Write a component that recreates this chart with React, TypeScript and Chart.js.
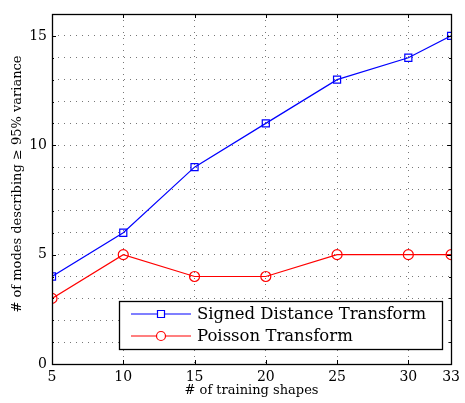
import React, { useEffect, useRef } from "react";
import { Chart, registerables } from "chart.js";

Chart.register(...registerables);

const trainingShapes = [5, 10, 15, 20, 25, 30, 33];
const sdtModes = [4, 6, 9, 11, 13, 14, 15];
const poissonModes = [3, 5, 4, 4, 5, 5, 5];
const xTicks = [5, 10, 15, 20, 25, 30, 33];
const yLabelTicks = [0, 5, 10, 15];
const seriesNames = ["Signed Distance Transform", "Poisson Transform"];
const xTitle = "# of training shapes";
const yTitle = "# of modes describing \u2265 95% variance";

const FONT = "'DejaVu Serif', serif";
const GRID = "#777";

const framePlugin = {
  id: "frame",
  afterDraw(chart: any) {
    const { ctx, chartArea: a, scales } = chart;
    const xs = scales.x, ys = scales.y;
    ctx.save();
    ctx.strokeStyle = "#000";
    ctx.lineWidth = 1;
    ctx.beginPath();
    for (const v of xTicks) {
      const px = Math.round(xs.getPixelForValue(v)) + 0.5;
      ctx.moveTo(px, a.bottom); ctx.lineTo(px, a.bottom - 4);
      ctx.moveTo(px, a.top); ctx.lineTo(px, a.top + 4);
    }
    for (let v = 0; v <= 16; v++) {
      const py = Math.round(ys.getPixelForValue(v)) + 0.5;
      const len = v % 5 === 0 ? 4 : 2;
      ctx.moveTo(a.left, py); ctx.lineTo(a.left + len, py);
      ctx.moveTo(a.right, py); ctx.lineTo(a.right - len, py);
    }
    ctx.stroke();
    ctx.lineWidth = 1.3;
    ctx.strokeRect(Math.round(a.left) + 0.5, Math.round(a.top) + 0.5, Math.round(a.right - a.left), Math.round(a.bottom - a.top));

    ctx.fillStyle = "#000";
    ctx.font = `13px ${FONT}`;
    ctx.textAlign = "center";
    ctx.textBaseline = "middle";
    ctx.fillText(xTitle, (a.left + a.right) / 2, 391);
    ctx.save();
    ctx.translate(18, 184);
    ctx.rotate(-Math.PI / 2);
    ctx.fillText(yTitle, 0, 0);
    ctx.restore();

    const lx = 119.5, ly = 301.5, lw = 323, lh = 48;
    ctx.fillStyle = "#fff";
    ctx.fillRect(lx, ly, lw, lh);
    ctx.strokeStyle = "#000";
    ctx.lineWidth = 1.3;
    ctx.strokeRect(lx, ly, lw, lh);
    const rows = [
      { y: 314, color: "#0000ff", shape: "rect" },
      { y: 336, color: "#ff0000", shape: "circle" },
    ];
    ctx.font = `16.5px ${FONT}`;
    ctx.textAlign = "left";
    rows.forEach((r, i) => {
      ctx.strokeStyle = r.color;
      ctx.lineWidth = 1.2;
      ctx.beginPath();
      ctx.moveTo(131, r.y); ctx.lineTo(191, r.y);
      ctx.stroke();
      ctx.beginPath();
      if (r.shape === "rect") ctx.rect(157.5, r.y - 3.5, 7, 7);
      else ctx.arc(161, r.y, 4.5, 0, Math.PI * 2);
      ctx.fillStyle = "#fff";
      ctx.fill();
      ctx.stroke();
      ctx.fillStyle = "#000";
      ctx.fillText(seriesNames[i], 197, r.y + 1);
    });
    ctx.restore();
  },
};

export default function App() {
  const ref = useRef<HTMLCanvasElement>(null);
  useEffect(() => {
    document.body.style.margin = "0";
    const chart = new Chart(ref.current!, {
      type: "line",
      data: {
        datasets: [
          {
            label: seriesNames[0],
            data: trainingShapes.map((x, i) => ({ x, y: sdtModes[i] })),
            borderColor: "#0000ff",
            borderWidth: 1.2,
            pointStyle: "rect",
            pointRadius: 5,
            pointBorderWidth: 1.2,
            pointBorderColor: "#0000ff",
            pointBackgroundColor: "rgba(255,255,255,0)",
          },
          {
            label: seriesNames[1],
            data: trainingShapes.map((x, i) => ({ x, y: poissonModes[i] })),
            borderColor: "#ff0000",
            borderWidth: 1.2,
            pointStyle: "circle",
            pointRadius: 5,
            pointBorderWidth: 1.2,
            pointBorderColor: "#ff0000",
            pointBackgroundColor: "rgba(255,255,255,0)",
          },
        ],
      },
      options: {
        animation: false,
        responsive: false,
        maintainAspectRatio: false,
        layout: { padding: { top: 14, right: 8, left: 0, bottom: 0 } },
        plugins: { legend: { display: false }, tooltip: { enabled: false } },
        scales: {
          x: {
            type: "linear",
            min: 5,
            max: 33,
            afterBuildTicks: (s: any) => {
              s.ticks = xTicks.map((v) => ({ value: v }));
            },
            afterFit: (s: any) => {
              s.height = 39;
            },
            border: { display: false, dash: [1, 5] },
            grid: {
              color: (c: any) => (c.tick && (c.tick.value === 5 || c.tick.value === 33) ? "rgba(0,0,0,0)" : GRID),
              lineWidth: 1,
              drawTicks: false,
            },
            ticks: {
              autoSkip: false,
              maxRotation: 0,
              padding: 5,
              color: "#000",
              font: { family: FONT, size: 14 },
              callback: (v: any) => String(v),
            },
          },
          y: {
            type: "linear",
            min: 0,
            max: 16,
            afterBuildTicks: (s: any) => {
              const t = [];
              for (let v = 0; v <= 16; v++) t.push({ value: v });
              s.ticks = t;
            },
            afterFit: (s: any) => {
              s.width = 52;
            },
            border: { display: false, dash: [1, 5] },
            grid: {
              color: (c: any) => (c.tick && (c.tick.value === 0 || c.tick.value === 16) ? "rgba(0,0,0,0)" : GRID),
              lineWidth: 1,
              drawTicks: false,
            },
            ticks: {
              autoSkip: false,
              padding: 5,
              color: "#000",
              font: { family: FONT, size: 14 },
              callback: (v: any) => (yLabelTicks.includes(v) ? String(v) : ""),
            },
          },
        },
      },
      plugins: [
        {
          id: "bg",
          beforeDraw(chart: any) {
            const ctx = chart.ctx;
            ctx.save();
            ctx.fillStyle = "#fff";
            ctx.fillRect(0, 0, chart.width, chart.height);
            ctx.restore();
          },
        },
        framePlugin,
      ],
    } as any);
    return () => chart.destroy();
  }, []);
  return (
    <div style={{ position: "absolute", left: 0, top: 0, width: 465, height: 403 }}>
      <canvas ref={ref} width={465} height={403} style={{ width: 465, height: 403 }} />
    </div>
  );
}
